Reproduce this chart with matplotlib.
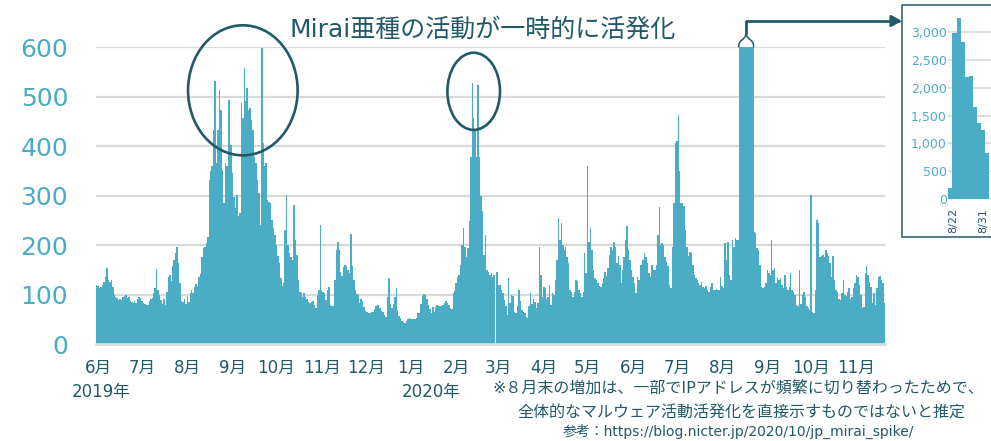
import numpy as np
import pandas as pd
import matplotlib
matplotlib.use('Agg')
import matplotlib.pyplot as plt
import matplotlib.dates as mdates
import matplotlib.transforms as mtransforms
from matplotlib.patches import Ellipse, PathPatch
from matplotlib.lines import Line2D
from matplotlib.path import Path

# daily counts, starting 2019-06-10
jun_2019 = [119, 118, 113, 116, 119, 126, 136, 153, 130, 125, 130, 116, 99, 96, 94, 89, 92, 88, 96, 97, 99]
jul_2019 = [93, 96, 86, 84, 82, 86, 82, 90, 95, 94, 86, 82, 80, 79, 79, 86, 90, 94, 103, 113,
            152, 110, 99, 88, 80, 92, 79, 105, 135, 140, 128]
aug_2019 = [157, 170, 184, 197, 163, 123, 86, 85, 92, 80, 97, 85, 104, 110, 103, 115, 122, 118, 135, 142,
            175, 195, 197, 205, 217, 332, 349, 360, 433, 531, 366]
sep_2019 = [433, 514, 474, 352, 285, 366, 359, 494, 494, 403, 345, 298, 275, 302, 258, 265, 487, 457, 558, 491,
            518, 474, 477, 453, 433, 379, 366, 332, 305, 240]
oct_2019 = [598, 406, 359, 366, 291, 288, 285, 250, 235, 220, 200, 177, 163, 133, 118, 123, 231, 302, 200, 184,
            175, 170, 281, 210, 180, 130, 106, 103, 96, 103, 96]
nov_2019 = [92, 85, 82, 84, 86, 78, 72, 100, 109, 241, 109, 106, 103, 89, 109, 116, 78, 76, 76, 130,
            190, 207, 190, 145, 138, 155, 160, 158, 150, 143]
dec_2019 = [223, 157, 130, 110, 101, 99, 82, 92, 86, 74, 66, 65, 63, 63, 64, 65, 70, 76, 78, 79,
            72, 67, 65, 59, 55, 96, 133, 80, 72, 80, 96]
jan_2020 = [113, 69, 56, 52, 47, 44, 42, 47, 50, 52, 50, 51, 50, 50, 52, 63, 63, 80, 97, 102,
            100, 90, 78, 70, 62, 75, 64, 74, 78, 76, 76]
feb_2020 = [76, 79, 82, 86, 82, 78, 72, 70, 103, 108, 123, 135, 140, 160, 200, 234, 197, 175, 194, 248,
            379, 528, 457, 433, 379, 524, 379, 300, 268]
mar_2020 = [180, 221, 150, 145, 140, 143, 136, 140, 0, 146, 119, 120, 109, 103, 89, 76, 59, 133, 82, 99,
            98, 65, 62, 76, 109, 86, 69, 65, 62, 55, 52]
apr_2020 = [76, 103, 80, 92, 85, 72, 82, 197, 140, 96, 116, 113, 90, 95, 119, 79, 103, 100, 130, 170,
            254, 211, 244, 200, 190, 197, 175, 163, 109, 106]
may_2020 = [96, 106, 130, 128, 109, 103, 96, 105, 184, 143, 359, 207, 234, 190, 150, 133, 130, 123, 118, 116,
            123, 133, 146, 138, 153, 180, 197, 190, 207, 197, 163]
jun_2020 = [177, 160, 123, 150, 175, 211, 238, 190, 170, 150, 135, 123, 103, 136, 130, 160, 160, 170, 185, 175,
            163, 143, 136, 160, 150, 150, 160, 221, 278, 200]
jul_2020 = [204, 200, 175, 165, 157, 119, 113, 197, 285, 406, 410, 464, 350, 285, 285, 280, 231, 197, 177, 187,
            185, 160, 140, 133, 130, 123, 119, 126, 116, 113, 118]
aug_2020 = [110, 106, 116, 123, 110, 109, 112, 109, 110, 136, 118, 113, 204, 170, 207, 140, 130, 211, 197, 214,
            210, 210, 2970, 3240, 2810, 2195, 2215, 1660, 1370, 1240, 835]
sep_2020 = [640, 227, 225, 194, 190, 160, 116, 113, 116, 123, 150, 143, 140, 211, 150, 153, 123, 136, 130, 133,
            120, 113, 140, 116, 109, 116, 143, 110, 106, 100]
oct_2020 = [79, 76, 150, 80, 100, 106, 95, 76, 72, 69, 302, 65, 62, 110, 251, 244, 175, 177, 180, 175,
            190, 184, 177, 163, 136, 177, 130, 109, 106, 92, 89]
nov_2020 = [103, 130, 100, 98, 105, 113, 90, 96, 113, 123, 140, 136, 120, 100, 72, 75, 143, 157, 140, 125,
            116, 82, 103, 79, 113, 136, 138, 130, 123, 82]

counts = np.array(jun_2019 + jul_2019 + aug_2019 + sep_2019 + oct_2019 + nov_2019 + dec_2019
                  + jan_2020 + feb_2020 + mar_2020 + apr_2020 + may_2020 + jun_2020 + jul_2020
                  + aug_2020 + sep_2020 + oct_2020 + nov_2020)
dates = pd.date_range('2019-06-10', periods=len(counts), freq='D')

month_ticks = pd.date_range('2019-06-01', '2020-11-01', freq='MS') + pd.Timedelta(days=10)
month_labels = [f'{d.month}月' for d in month_ticks]

inset_start, inset_end = '2020-08-22', '2020-08-31'

BAR = '#4BACC6'
DARK = '#215968'
GRID = '#d9d9d9'
FONT = ['DejaVu Sans', 'Noto Sans CJK JP']
plt.rcParams['font.family'] = FONT

W, H = 991, 441
fig = plt.figure(figsize=(W / 100, H / 100), dpi=100)


def box(x0, y0, x1, y1):
    return [x0 / W, 1 - y1 / H, (x1 - x0) / W, (y1 - y0) / H]


# main chart
ax = fig.add_axes(box(96, 47.3, 885, 344))
ax.bar(dates, counts, width=1.0, color=BAR, linewidth=0)
x0 = mdates.date2num(dates[0]) - 0.5
x1 = mdates.date2num(dates[-1]) + 0.5
ax.set_xlim(x0, x1)
ax.set_ylim(0, 600)
ax.set_yticks(range(0, 601, 100))
ax.yaxis.grid(True, color=GRID, lw=1.6)
ax.set_axisbelow(True)
for s in ['top', 'right', 'left']:
    ax.spines[s].set_visible(False)
ax.spines['bottom'].set_color(GRID)
ax.spines['bottom'].set_linewidth(2)
ax.tick_params(axis='y', length=0, pad=20, labelsize=18, labelcolor=BAR)
ax.set_xticks(month_ticks)
ax.set_xticklabels(month_labels)
ax.tick_params(axis='x', length=0, pad=11, labelsize=12, labelcolor=DARK)

trans = mtransforms.blended_transform_factory(ax.transData, ax.transAxes)
ax.text(month_ticks[0] + pd.Timedelta(days=2), -0.162, '2019年', transform=trans,
        ha='center', va='center', fontsize=12, color=DARK)
ax.text(month_ticks[7] + pd.Timedelta(days=14), -0.162, '2020年', transform=trans,
        ha='center', va='center', fontsize=12, color=DARK)

# circles round the Mirai peaks
for cd, cy, w, h in [('2019-09-18', 513, 75, 263), ('2020-02-23', 511, 36, 156)]:
    ax.add_patch(Ellipse((mdates.date2num(pd.Timestamp(cd)), cy), w, h, fill=False,
                         ec=DARK, lw=1.9, clip_on=False, zorder=5))

fig.text(483 / W, 1 - 30 / H, 'Mirai亜種の活動が一時的に活発化', ha='center', va='center',
         fontsize=18, color=DARK)

# cut mark on top of the clipped spike
over = np.where(counts > 600)[0]
xl = mdates.date2num(dates[over[0]]) - 0.5
xr = mdates.date2num(dates[over[-1]]) + 0.5
xm = (xl + xr) / 2
hw = (xr - xl) / 2
neck = 628
verts = [(xl, 600), (xl - 0.15 * hw, 616), (xm - 0.1 * hw, 614), (xm, neck),
         (xm + 0.1 * hw, 614), (xr + 0.15 * hw, 616), (xr, 600)]
codes = [Path.MOVETO] + [Path.CURVE4] * 6
ax.add_patch(PathPatch(Path(verts, codes), fill=False, ec=DARK, lw=1.1, clip_on=False, zorder=6))

ax.annotate('', xy=(902 / W, 1 - 21 / H), xycoords='figure fraction',
            xytext=(xm, neck), textcoords='data', annotation_clip=False,
            arrowprops=dict(arrowstyle='-|>,head_length=0.6,head_width=0.33', color=DARK, lw=2,
                            shrinkA=0, shrinkB=0, mutation_scale=10,
                            connectionstyle='angle,angleA=90,angleB=0,rad=0'))

# inset with the real heights of the spike, its frame runs off the right edge
fig.add_artist(Line2D([1100 / W, 902 / W, 902 / W, 1100 / W],
                      [1 - 5 / H, 1 - 5 / H, 1 - 237 / H, 1 - 237 / H],
                      transform=fig.transFigure, color=DARK, lw=1.1))
day_px = 4.1
ins = fig.add_axes(box(948.3, 15.0, 948.3 + 20 * day_px, 199.3))
sel = (dates >= inset_start) & (dates <= inset_end)
ins.bar(dates[sel], counts[sel], width=1.0, color=BAR, linewidth=0)
i0 = mdates.date2num(pd.Timestamp(inset_start)) - 0.5
ins.set_xlim(i0, i0 + 20)
ins.set_ylim(0, 3300)
ins.set_yticks(range(0, 3001, 500))
ins.yaxis.set_major_formatter(matplotlib.ticker.StrMethodFormatter('{x:,.0f}'))
ins.yaxis.grid(True, color=GRID, lw=1.2)
ins.set_axisbelow(True)
for s in ins.spines.values():
    s.set_visible(False)
ins.set_xticks([pd.Timestamp(inset_start), pd.Timestamp(inset_end)])
ins.set_xticklabels(['8/22', '8/31'], rotation=90)
ins.tick_params(axis='y', length=0, pad=1, labelsize=9, labelcolor=BAR)
ins.tick_params(axis='x', length=0, pad=6, labelsize=8, labelcolor=DARK)
# nudge the two date labels inwards as in the original
for lab, dx in zip(ins.get_xticklabels(), [3, -4]):
    lab.set_transform(lab.get_transform() + mtransforms.ScaledTranslation(dx / 100, 0, fig.dpi_scale_trans))

# notes
fig.text(738 / W, 1 - 388 / H, '※８月末の増加は、一部でIPアドレスが頻繁に切り替わったためで、',
         ha='center', va='center', fontsize=11.5, color=DARK)
fig.text(741 / W, 1 - 412 / H, '全体的なマルウェア活動活発化を直接示すものではないと推定',
         ha='center', va='center', fontsize=11.5, color=DARK)
fig.text(738 / W, 1 - 431 / H, '参考：https://blog.nicter.jp/2020/10/jp_mirai_spike/',
         ha='center', va='center', fontsize=10, color=DARK)

fig.savefig('out.png', dpi=100)
